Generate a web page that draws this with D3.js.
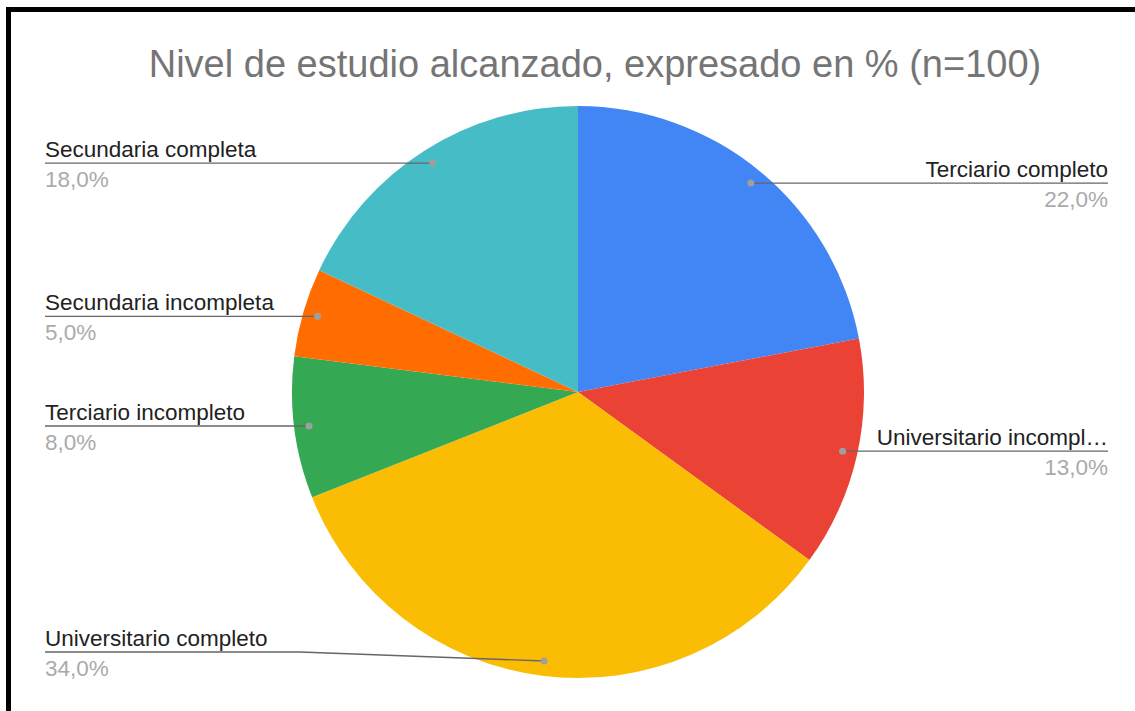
<!DOCTYPE html>
<html>
<head>
<meta charset="utf-8">
<script src="https://cdn.jsdelivr.net/npm/d3@7/dist/d3.min.js"></script>
<style>
  html, body { margin: 0; padding: 0; background: #fff; }
  svg { display: block; }
</style>
</head>
<body>
<svg id="chart" width="1135" height="711"></svg>
<script>
const title = "Nivel de estudio alcanzado, expresado en % (n=100)";
const categories = ["Terciario completo", "Universitario incompleto", "Universitario completo", "Terciario incompleto", "Secundaria incompleta", "Secundaria completa"];
const values = [22, 13, 34, 8, 5, 18];
const colors = ["#4285F4", "#EA4335", "#FBBC04", "#34A853", "#FF6D01", "#46BDC6"];
const displayNames = ["Terciario completo", "Universitario incompl\u2026", "Universitario completo", "Terciario incompleto", "Secundaria incompleta", "Secundaria completa"];

const W = 1135, H = 711;
const svg = d3.select("#chart");
svg.append("rect").attr("width", W).attr("height", H).attr("fill", "#fff");

const cx = 578, cy = 392, R = 286;
const g = svg.append("g").attr("transform", `translate(${cx},${cy})`);

const pie = d3.pie().sort(null).value(d => d.v);
const data = categories.map((c, i) => ({ c, v: values[i], color: colors[i], name: displayNames[i] }));
const arcs = pie(data);
const arc = d3.arc().innerRadius(0).outerRadius(R);

g.selectAll("path.slice").data(arcs).enter().append("path")
  .attr("class", "slice")
  .attr("d", arc)
  .attr("fill", d => d.data.color);

const fmt = v => d3.format(".1f")(v).replace(".", ",") + "%";
const total = d3.sum(values);
const leftX = 45, rightX = 1108;
const maxLineY = 652;
const font = "Liberation Sans, Arial, sans-serif";

arcs.forEach(a => {
  const mid = (a.startAngle + a.endAngle) / 2;
  const rd = R * 0.948;
  const dx = cx + rd * Math.sin(mid);
  const dy = cy - rd * Math.cos(mid);
  const right = Math.sin(mid) > 0;
  const ly = Math.min(dy, maxLineY);
  const ex = right ? rightX : leftX;
  const pts = right ? [[dx, dy], [ex, ly]] : [[ex, ly], [300, ly], [dx, dy]];
  svg.append("path")
    .attr("d", d3.line()(pts))
    .attr("fill", "none")
    .attr("stroke", "#666")
    .attr("stroke-width", 1.3);
  svg.append("circle").attr("cx", dx).attr("cy", dy).attr("r", 3.5).attr("fill", "#9e9e9e");
  svg.append("text")
    .attr("x", ex).attr("y", ly - 6)
    .attr("text-anchor", right ? "end" : "start")
    .attr("font-family", font)
    .attr("font-size", 22.5)
    .attr("fill", "#222")
    .text(a.data.name);
  svg.append("text")
    .attr("x", ex).attr("y", ly + 24)
    .attr("text-anchor", right ? "end" : "start")
    .attr("font-family", font)
    .attr("font-size", 22.5)
    .attr("fill", "#aaa")
    .text(fmt(a.data.v / total * 100));
});

svg.append("text")
  .attr("x", 595).attr("y", 77)
  .attr("text-anchor", "middle")
  .attr("font-family", font)
  .attr("font-size", 38)
  .attr("fill", "#757575")
  .text(title);

// frame
svg.append("rect").attr("x", 6).attr("y", 7).attr("width", W - 6).attr("height", 5).attr("fill", "#000");
svg.append("rect").attr("x", 6).attr("y", 7).attr("width", 5).attr("height", H - 7).attr("fill", "#000");
</script>
</body>
</html>
